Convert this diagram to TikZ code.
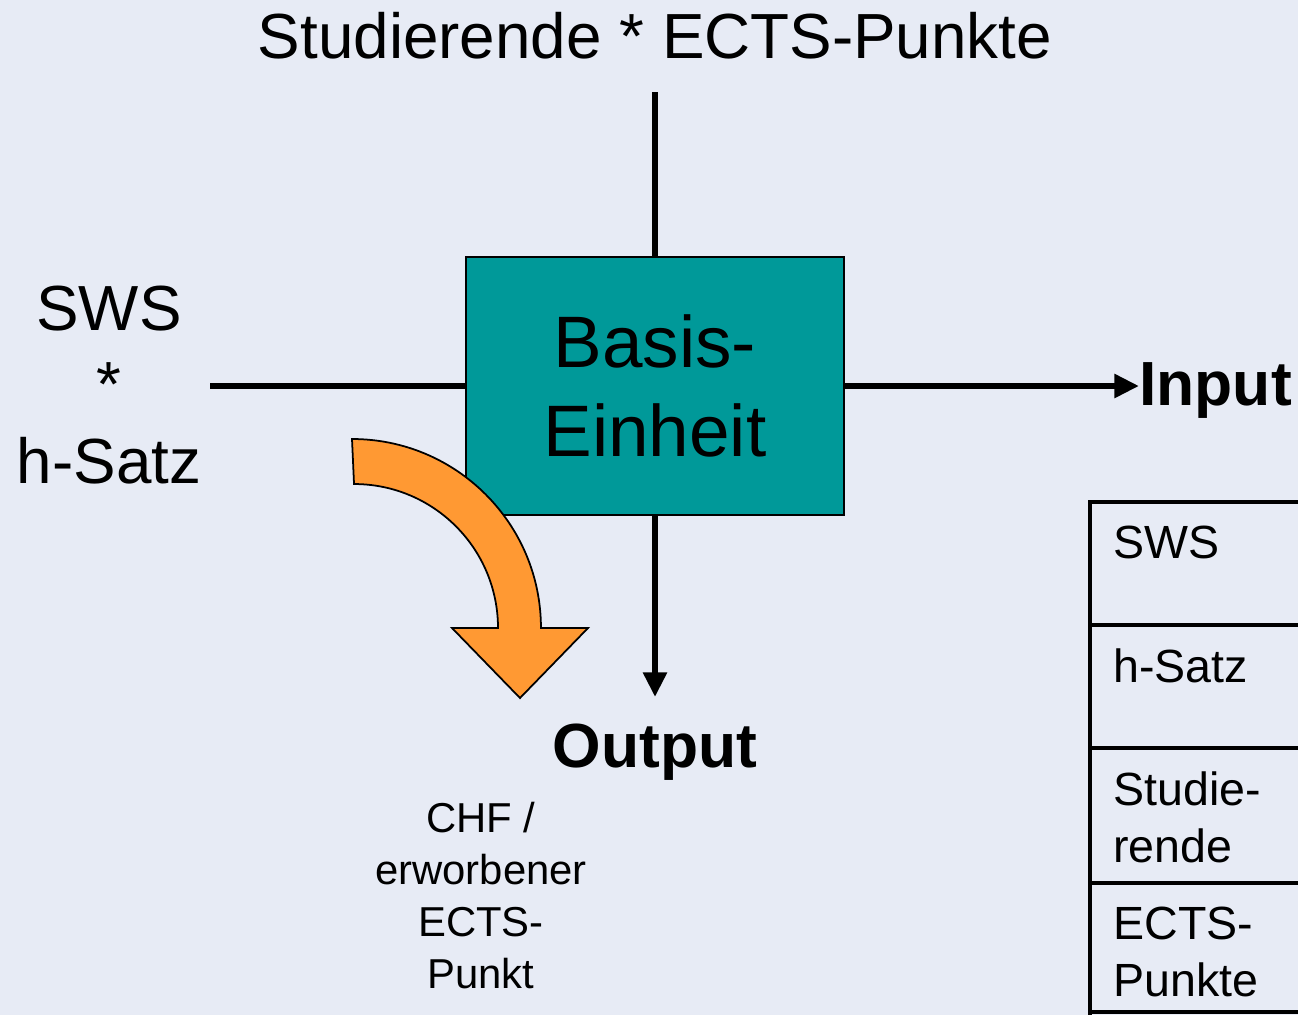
\documentclass[tikz,border=0pt]{standalone}
\usepackage{fontspec}
\setmainfont{Liberation Sans}
\usetikzlibrary{arrows.meta}
\definecolor{bgc}{HTML}{E7EBF5}
\definecolor{tealc}{HTML}{009999}
\definecolor{orangec}{HTML}{FF9933}
\begin{document}
\begin{tikzpicture}[x=0.02cm,y=-0.02cm,
  conn/.style={line width=3.4pt,draw=black},
  arr/.style={conn,-{Triangle[length=14pt,width=13pt]}},
  bigtxt/.style={font=\fontsize{36.3}{43.5}\selectfont,inner sep=0pt,align=center},
  celltxt/.style={font=\fontsize{26.5}{32.4}\selectfont,inner sep=0pt,align=left,anchor=base west},
  tline/.style={line width=1.8pt,draw=black}]
\useasboundingbox[fill=bgc] (0,0) rectangle (1298,1015);
% title
\node[bigtxt,anchor=base] (title) at (655,58) {Studierende * ECTS-Punkte};
\coordinate (topend) at (655,92);
% box
\node[draw=black,line width=1.2pt,fill=tealc,minimum width=378*0.02cm,minimum height=258*0.02cm,
  align=center,inner sep=0pt,font=\fontsize{41.5}{50.5}\selectfont] (box) at (655,386) {Basis-\\Einheit};
% left text
\node[bigtxt,anchor=base] (left) at (109,483) {SWS\\*\\h-Satz};
\coordinate (leftend) at (210,386);
% input
\node[font=\fontsize{35.5}{42}\selectfont\bfseries,inner sep=0pt,anchor=base west] (input) at (1139,405) {Input};
% output
\node[font=\fontsize{35.5}{42}\selectfont\bfseries,inner sep=0pt,anchor=base] (output) at (655,767) {Output};
\coordinate (outend) at (655,697);
% chf
\node[font=\fontsize{23.8}{29.6}\selectfont,inner sep=0pt,align=center,anchor=base] (chf) at (481,988) {CHF /\\erworbener\\ECTS-\\Punkt};
% connectors
\draw[conn] (topend) -- (box.north);
\draw[conn] (leftend) -- (box.west);
\draw[arr] (box.east) -- (box.east -| input.west);
\draw[arr] (box.south) -- (outend);
% orange arrow
\draw[fill=orangec,draw=black,line width=1pt,line join=miter]
  (352,439) arc[start angle=90,end angle=0,radius=3.78cm]
  -- (588,628) -- (520,698) -- (452,628) -- (498,628)
  arc[start angle=0,end angle=90,radius=2.88cm] -- cycle;
% table
\draw[line width=2.8pt] (1090,500) -- (1090,1015);
\draw[line width=2.4pt] (1088,502) -- (1298,502);
\draw[tline] (1090,625) -- (1298,625);
\draw[tline] (1090,748) -- (1298,748);
\draw[tline] (1090,883) -- (1298,883);
\draw[tline] (1090,1012) -- (1298,1012);
\node[celltxt] (c1) at (1113,558) {SWS};
\node[celltxt] (c2) at (1113,682) {h-Satz};
\node[celltxt] (c3) at (1113,862) {Studie-\\rende};
\node[celltxt] (c4) at (1113,996) {ECTS-\\Punkte};
\end{tikzpicture}
\end{document}
